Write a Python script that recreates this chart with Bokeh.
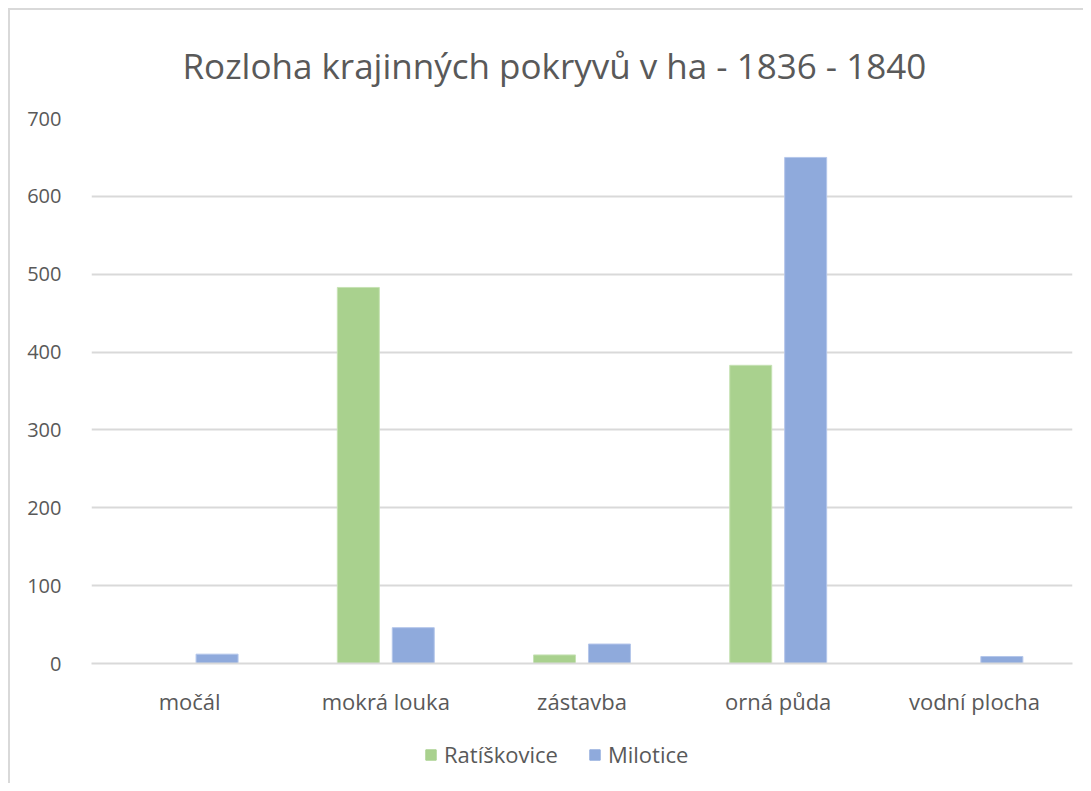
from bokeh.plotting import figure
from bokeh.layouts import column
from bokeh.models import ColumnDataSource, FactorRange, Legend, LegendItem, FixedTicker, Range1d
from bokeh.transform import dodge
from bokeh.embed import file_html
from bokeh.resources import INLINE

categories = ["močál", "mokrá louka", "zástavba", "orná půda", "vodní plocha"]
ratiskovice = [0, 483, 11, 383, 0]
milotice = [12, 46, 25, 650, 9]
series_names = ["Ratíškovice", "Milotice"]
y_ticks = [0, 100, 200, 300, 400, 500, 600, 700]

GREEN = "#a9d18e"
BLUE = "#8faadc"
TEXT = "#595959"
GRID = "#d9d9d9"
FONT = "Open Sans"

src = ColumnDataSource(dict(cat=categories, r=ratiskovice, m=milotice))

p = figure(x_range=FactorRange(*categories, range_padding=0), y_range=(0, 700),
           width=1075, height=725, output_backend="svg", toolbar_location=None,
           min_border_left=83, min_border_right=11, min_border_top=110, min_border_bottom=70)

p.title.text = "Rozloha krajinných pokryvů v ha - 1836 - 1840"
p.title.align = "left"
p.title.text_font = FONT
p.title.text_font_size = "35px"
p.title.text_font_style = "normal"
p.title.text_color = TEXT
p.title.standoff = 60
p.title.offset = 91

r1 = p.vbar(x=dodge("cat", -0.14, range=p.x_range), top="r", width=0.214, source=src,
            fill_color=GREEN, line_color="#c6e2b4", line_width=1)
r2 = p.vbar(x=dodge("cat", 0.14, range=p.x_range), top="m", width=0.214, source=src,
            fill_color=BLUE, line_color="#b4c6ea", line_width=1)

p.outline_line_color = None
p.background_fill_color = "white"
p.border_fill_color = None

p.yaxis.ticker = FixedTicker(ticks=y_ticks)
p.yaxis.axis_line_color = None
p.yaxis.major_tick_line_color = None
p.yaxis.minor_tick_line_color = None
p.yaxis.major_label_standoff = 24
p.yaxis.major_label_text_font = FONT
p.yaxis.major_label_text_font_size = "20px"
p.yaxis.major_label_text_color = TEXT

p.xaxis.axis_line_color = GRID
p.xaxis.axis_line_width = 2
p.xaxis.major_tick_line_color = None
p.xaxis.minor_tick_line_color = None
p.xaxis.major_label_standoff = 16
p.xaxis.major_label_text_font = FONT
p.xaxis.major_label_text_font_size = "22px"
p.xaxis.major_label_text_color = TEXT

p.xgrid.grid_line_color = None
p.ygrid.grid_line_color = GRID
p.ygrid.grid_line_width = 2

# legend strip below the chart
pl = figure(width=1075, height=50, output_backend="svg", toolbar_location=None,
            x_axis_type=None, y_axis_type=None, x_range=Range1d(0, 1), y_range=Range1d(1, 2),
            min_border_left=0, min_border_right=0, min_border_top=0, min_border_bottom=0)
pl.outline_line_color = None
pl.background_fill_color = None
pl.border_fill_color = None
pl.grid.visible = False
lsrc = ColumnDataSource(dict(x=[0.5], top=[0]))
lr1 = pl.vbar(x="x", top="top", width=0.1, source=lsrc, fill_color=GREEN, line_color=GREEN)
lr2 = pl.vbar(x="x", top="top", width=0.1, source=lsrc, fill_color=BLUE, line_color=BLUE)

legend = Legend(items=[LegendItem(label=series_names[0], renderers=[lr1]),
                       LegendItem(label=series_names[1], renderers=[lr2])],
                orientation="horizontal", location=(333, 14),
                label_text_font=FONT, label_text_font_size="22px", label_text_color=TEXT,
                glyph_width=13, glyph_height=13, spacing=30, label_standoff=7,
                border_line_color=None, background_fill_alpha=0, margin=0, padding=6)
pl.add_layout(legend, "center")

layout = column(p, pl, spacing=0)
layout.styles = {"box-shadow": "inset 2px 2px 0 0 #d9d9d9", "background-color": "white",
                 "margin-left": "8px", "margin-top": "8px"}

open("out.html", "w").write(file_html(layout, INLINE))
